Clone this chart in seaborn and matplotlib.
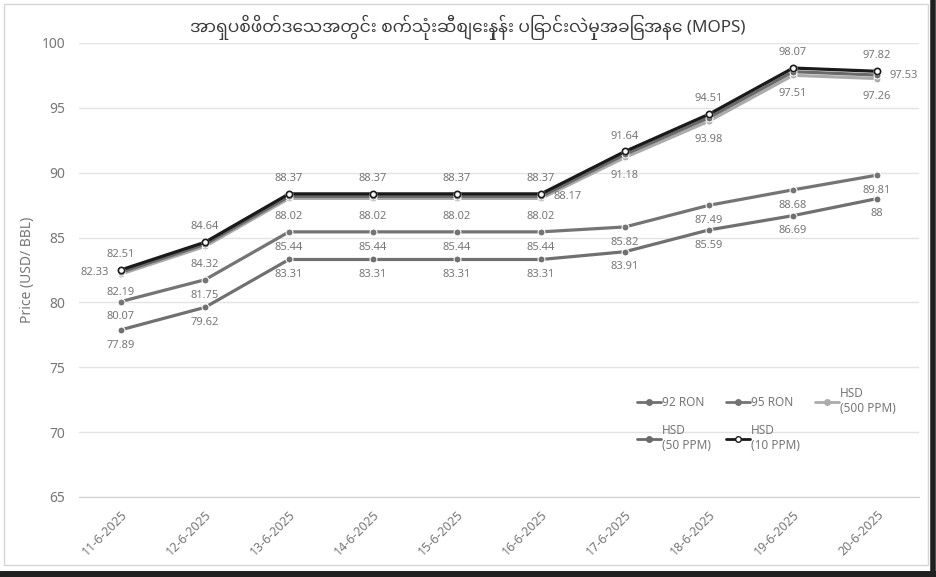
import pandas as pd
import matplotlib.pyplot as plt
import seaborn as sns
from matplotlib.patches import Rectangle
from matplotlib.lines import Line2D

# data
dates = ['11-6-2025', '12-6-2025', '13-6-2025', '14-6-2025', '15-6-2025',
         '16-6-2025', '17-6-2025', '18-6-2025', '19-6-2025', '20-6-2025']
ron92 = [77.89, 79.62, 83.31, 83.31, 83.31, 83.31, 83.91, 85.59, 86.69, 88]
ron95 = [80.07, 81.75, 85.44, 85.44, 85.44, 85.44, 85.82, 87.49, 88.68, 89.81]
hsd500 = [82.19, 84.32, 88.02, 88.02, 88.02, 88.02, 91.18, 93.98, 97.51, 97.26]
hsd50 = [82.33, 84.48, 88.17, 88.17, 88.17, 88.17, 91.41, 94.25, 97.79, 97.53]
hsd10 = [82.51, 84.64, 88.37, 88.37, 88.37, 88.37, 91.64, 94.51, 98.07, 97.82]

series = {'92 RON': ron92, '95 RON': ron95, 'HSD\n(500 PPM)': hsd500,
          'HSD\n(50 PPM)': hsd50, 'HSD\n(10 PPM)': hsd10}
rows = []
for name, vals in series.items():
    for i, v in enumerate(vals):
        rows.append({'pos': i, 'price': v, 'fuel': name})
df = pd.DataFrame(rows)

sns.set_style('white')
plt.rcParams['font.family'] = ['Noto Sans Myanmar', 'Noto Sans', 'DejaVu Sans']

colors = {'92 RON': '#707070', '95 RON': '#747474', 'HSD\n(500 PPM)': '#ababab',
          'HSD\n(50 PPM)': '#6a6a6a', 'HSD\n(10 PPM)': '#1a1a1a'}
txt_col = '#777777'

fig = plt.figure(figsize=(9.36, 5.77), dpi=100)
ax = fig.add_axes([79 / 936, 80 / 577, 840 / 936, 454 / 577])

sns.lineplot(data=df, x='pos', y='price', hue='fuel', palette=colors,
             linewidth=2.3, marker='o', markersize=5, ax=ax, legend=False)
# white centre markers for HSD 10 PPM
ax.plot(range(10), hsd10, 'o', ms=4.5, mfc='white', mec='#1a1a1a', mew=1.2)

lbl = dict(fontsize=8, color=txt_col, ha='center', va='center')
for i in range(10):
    ax.annotate(f'{ron92[i]:g}', (i, ron92[i]), xytext=(0, -11), textcoords='offset points', **lbl)
    ax.annotate(f'{ron95[i]:g}', (i, ron95[i]), xytext=(0, -11), textcoords='offset points', **lbl)
    ax.annotate(f'{hsd500[i]:g}', (i, hsd500[i]), xytext=(0, -13), textcoords='offset points', **lbl)
    ax.annotate(f'{hsd10[i]:g}', (i, hsd10[i]), xytext=(0, 11), textcoords='offset points', **lbl)
ax.annotate(f'{hsd50[0]:g}', (0, hsd50[0]), xytext=(-19, 0), textcoords='offset points', **lbl)
ax.annotate(f'{hsd50[5]:g}', (5, hsd50[5]), xytext=(19, 0), textcoords='offset points', **lbl)
ax.annotate(f'{hsd50[9]:g}', (9, hsd50[9]), xytext=(19, 0), textcoords='offset points', **lbl)

ax.set_xlim(-0.5, 9.5)
ax.set_ylim(65, 100)
ax.set_yticks(range(65, 101, 5))
ax.set_xticks([i - 0.5 for i in range(11)], minor=False)
ax.set_xticklabels([])
ax.set_xticks(range(10), minor=True)
ax.set_xticklabels(dates, minor=True, rotation=45, ha='right', rotation_mode='anchor',
                   fontsize=9, color=txt_col)
ax.tick_params(axis='x', which='major', length=5, color='#d0d0d0', width=1, direction='out')
ax.tick_params(axis='x', which='minor', length=0, pad=8)
ax.tick_params(axis='y', length=0, labelsize=10, labelcolor=txt_col, pad=10)
ax.grid(axis='y', color='#e3e3e3', linewidth=1)
ax.set_axisbelow(True)
for s in ['top', 'right', 'left']:
    ax.spines[s].set_visible(False)
ax.spines['bottom'].set_color('#d0d0d0')
ax.set_xlabel('')
ax.set_ylabel('Price (USD/ BBL)', fontsize=10, color=txt_col, labelpad=5)

# legend, ordered so it fills row by row like the original
order = ['92 RON', 'HSD\n(50 PPM)', '95 RON', 'HSD\n(10 PPM)', 'HSD\n(500 PPM)']
handles = []
for name in order:
    if name == 'HSD\n(10 PPM)':
        h = Line2D([], [], color=colors[name], lw=2, marker='o', ms=4, mfc='white', mec=colors[name])
    else:
        h = Line2D([], [], color=colors[name], lw=2, marker='o', ms=4)
    handles.append(h)
leg = ax.legend(handles, order, ncol=3, frameon=False, fontsize=8.5,
                loc='lower left', bbox_to_anchor=(0.652, 0.075), handlelength=2,
                handletextpad=0.1, columnspacing=1.3, labelspacing=1.3)
for t in leg.get_texts():
    t.set_color(txt_col)

fig.text(0.5, 0.952, 'အာရှပစိဖိတ်ဒေသအတွင်း စက်သုံးဆီစျေးနှုန်း ပြောင်းလဲမှုအခြေအနေ (MOPS)',
         ha='center', va='center', fontsize=12.3, fontweight='bold', color='#3c3c3c')

# frame around chart
fig.patches.append(Rectangle((4 / 936, 12 / 577), 924 / 936, 561 / 577, transform=fig.transFigure,
                             fill=False, edgecolor='#d6d6d6', linewidth=1))
fig.add_artist(Line2D([0, 1], [3 / 577, 3 / 577], transform=fig.transFigure, color='#202020', lw=5))
fig.add_artist(Line2D([933 / 936, 933 / 936], [0, 1], transform=fig.transFigure, color='#202020', lw=4))

plt.savefig('out.png', dpi=100)
